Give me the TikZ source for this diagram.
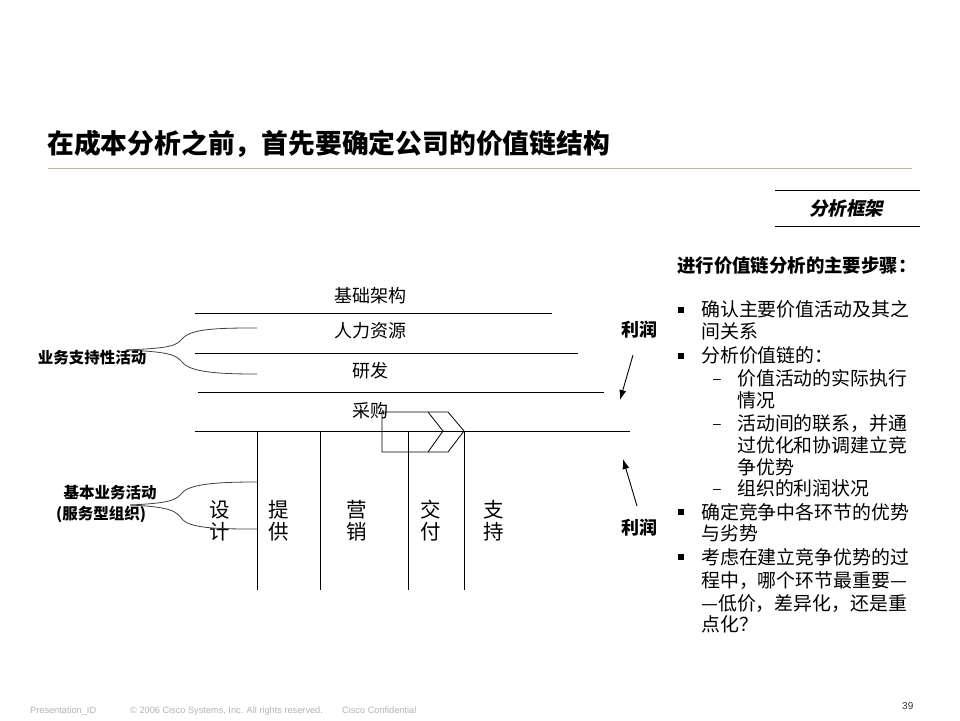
\documentclass[tikz,border=0pt]{standalone}
\usepackage{fontspec}
\usetikzlibrary{arrows.meta}
\setmainfont{Liberation Sans}
\newfontfamily\cjk{Noto Sans CJK SC}
\newfontfamily\cjkit{Noto Sans CJK SC}[FakeSlant=0.2]
\definecolor{goldline}{RGB}{200,180,125}
\begin{document}
\begin{tikzpicture}[x=1pt,y=-1pt,
  ln/.style={draw=black,line width=0.9pt},
  lbl/.style={anchor=base,inner sep=0,font=\cjk\fontsize{18}{22}\selectfont},
  vlbl/.style={anchor=base,inner sep=0,font=\cjk\fontsize{20.5}{22}\selectfont},
  side/.style={anchor=base,inner sep=0,font=\cjk\bfseries\fontsize{15.5}{18}\selectfont},
  profit/.style={anchor=base,inner sep=0,font=\cjk\bfseries\fontsize{18}{22}\selectfont},
  rtxt/.style={anchor=base west,inner sep=0,font=\cjk\fontsize{18.9}{22}\selectfont},
  sq/.style={fill=black,minimum size=6.5pt,inner sep=0},
  dsh/.style={anchor=base west,inner sep=0,font=\fontsize{14}{16}\selectfont},
  foot/.style={anchor=base west,inner sep=0,font=\fontsize{9.2}{10}\selectfont,text=black!30},
  brace/.style={draw=black!75,line width=0.8pt},
  arr/.style={draw=black,line width=0.9pt,-{Latex[length=10pt,width=7pt]}}]
\useasboundingbox (0,0) rectangle (960,720);
% title
\node[anchor=base west,inner sep=0,font=\cjk\bfseries\fontsize{26.8}{30}\selectfont] (title) at (47,153) {在成本分析之前，首先要确定公司的价值链结构};
\coordinate (gl1) at (48,168); \coordinate (gl2) at (912,168);
\draw[goldline,line width=1pt] (gl1) -- (gl2);
% framework tag
\coordinate (fa1) at (775,190); \coordinate (fa2) at (920,190);
\coordinate (fb1) at (775,226); \coordinate (fb2) at (920,226);
\draw[ln] (fa1) -- (fa2);
\draw[ln] (fb1) -- (fb2);
\node[anchor=base,inner sep=0,font=\cjkit\bfseries\fontsize{18.5}{22}\selectfont] (frame) at (846,215) {分析框架};
% diagram lines
\coordinate (h1a) at (195,313); \coordinate (h1b) at (552,313);
\coordinate (h2a) at (195,353); \coordinate (h2b) at (578,353);
\coordinate (h3a) at (198,392); \coordinate (h3b) at (604,392);
\coordinate (h4a) at (195,431); \coordinate (h4b) at (630,431);
\draw[ln] (h1a) -- (h1b);
\draw[ln] (h2a) -- (h2b);
\draw[ln] (h3a) -- (h3b);
\draw[ln] (h4a) -- (h4b);
\foreach \n/\x in {v1/257,v2/320,v3/408,v4/464}{
  \coordinate (\n t) at (\x,431); \coordinate (\n b) at (\x,590);
  \draw[ln] (\n t) -- (\n b);
}
\node[lbl] (infra) at (370,302) {基础架构};
\node[lbl] (hr) at (370,337) {人力资源};
\node[lbl] (rd) at (370,377) {研发};
\node[lbl] (buy) at (370,417) {采购};
% chevron arrow
\draw[line width=0.8pt] (382,412) coordinate (p1) -- (448,412) coordinate (p2) -- (464,431) coordinate (p3) -- (448,452) coordinate (p4) -- (382,452) coordinate (p5) -- cycle;
\draw[line width=0.8pt] (428,412) coordinate (c1) -- (443,431) coordinate (c2) -- (428,452) coordinate (c3);
% primary activity labels
\foreach \n/\x/\a/\b in {d/220/设/计,p/279/提/供,m/357/营/销,j/431/交/付,s/494/支/持}{
  \node[vlbl] (\n1) at (\x,517.5) {\a};
  \node[vlbl] (\n2) at (\x,539.5) {\b};
}
% left labels and braces
\node[side] (support) at (92,363) {业务支持性活动};
\node[side] (primary) at (110,498) {基本业务活动};
\node[side] (primary2) at (101,519) {(服务型组织)};
\coordinate (sa) at (126,350); \coordinate (su) at (257,328); \coordinate (sl) at (257,374);
\draw[brace] (sa) .. controls (172,348) and (176,346) .. (183,338) .. controls (192,328) and (225,328) .. (su);
\draw[brace] (sa) .. controls (172,352) and (176,355) .. (183,363) .. controls (192,373) and (225,374) .. (sl);
\coordinate (pa) at (130,505); \coordinate (pu) at (257,482); \coordinate (pl) at (257,529);
\draw[brace] (pa) .. controls (172,503) and (176,500) .. (183,492) .. controls (192,483) and (225,482) .. (pu);
\draw[brace] (pa) .. controls (172,507) and (176,511) .. (183,520) .. controls (192,529) and (225,529) .. (pl);
% profit
\node[profit] (pr1) at (639,336) {利润};
\node[profit] (pr2) at (639,534) {利润};
\coordinate (a1s) at (633,355); \coordinate (a1e) at (620,400);
\coordinate (a2s) at (637,506); \coordinate (a2e) at (623,459);
\draw[arr] (a1s) -- (a1e);
\draw[arr] (a2s) -- (a2e);
% right column
\node[anchor=base west,inner sep=0,font=\cjk\bfseries\fontsize{18.4}{22}\selectfont] (head) at (677,272) {进行价值链分析的主要步骤：};
\node[sq] (b1) at (681,310) {};
\node[sq] (b2) at (681,356) {};
\node[sq] (b3) at (681,512) {};
\node[sq] (b4) at (681,557) {};
\node[dsh] (d1) at (713,383) {–};
\node[dsh] (d2) at (713,428) {–};
\node[dsh] (d3) at (713,493) {–};
\node[rtxt] (r1) at (701,316.5) {确认主要价值活动及其之};
\node[rtxt] (r2) at (701,338.5) {间关系};
\node[rtxt] (r3) at (701,362) {分析价值链的：};
\node[rtxt] (r4) at (737,385) {价值活动的实际执行};
\node[rtxt] (r5) at (737,407) {情况};
\node[rtxt] (r6) at (737,430.5) {活动间的联系，并通};
\node[rtxt] (r7) at (737,452) {过优化和协调建立竞};
\node[rtxt] (r8) at (737,474) {争优势};
\node[rtxt] (r9) at (737,495.5) {组织的利润状况};
\node[rtxt] (r10) at (701,519) {确定竞争中各环节的优势};
\node[rtxt] (r11) at (701,540) {与劣势};
\node[rtxt] (r12) at (701,564) {考虑在建立竞争优势的过};
\node[rtxt] (r13) at (701,587) {程中，哪个环节最重要—};
\node[rtxt] (r14) at (701,610) {—低价，差异化，还是重};
\node[rtxt] (r15) at (701,631) {点化？};
% footer
\node[foot] (f1) at (30,713) {Presentation\_ID};
\node[foot] (f2) at (130,713) {© 2006 Cisco Systems, Inc. All rights reserved.};
\node[foot] (f3) at (342,713) {Cisco Confidential};
\node[anchor=base west,inner sep=0,font=\fontsize{10}{12}\selectfont,text=black!80] (pg) at (902,709) {39};
\end{tikzpicture}
\end{document}
